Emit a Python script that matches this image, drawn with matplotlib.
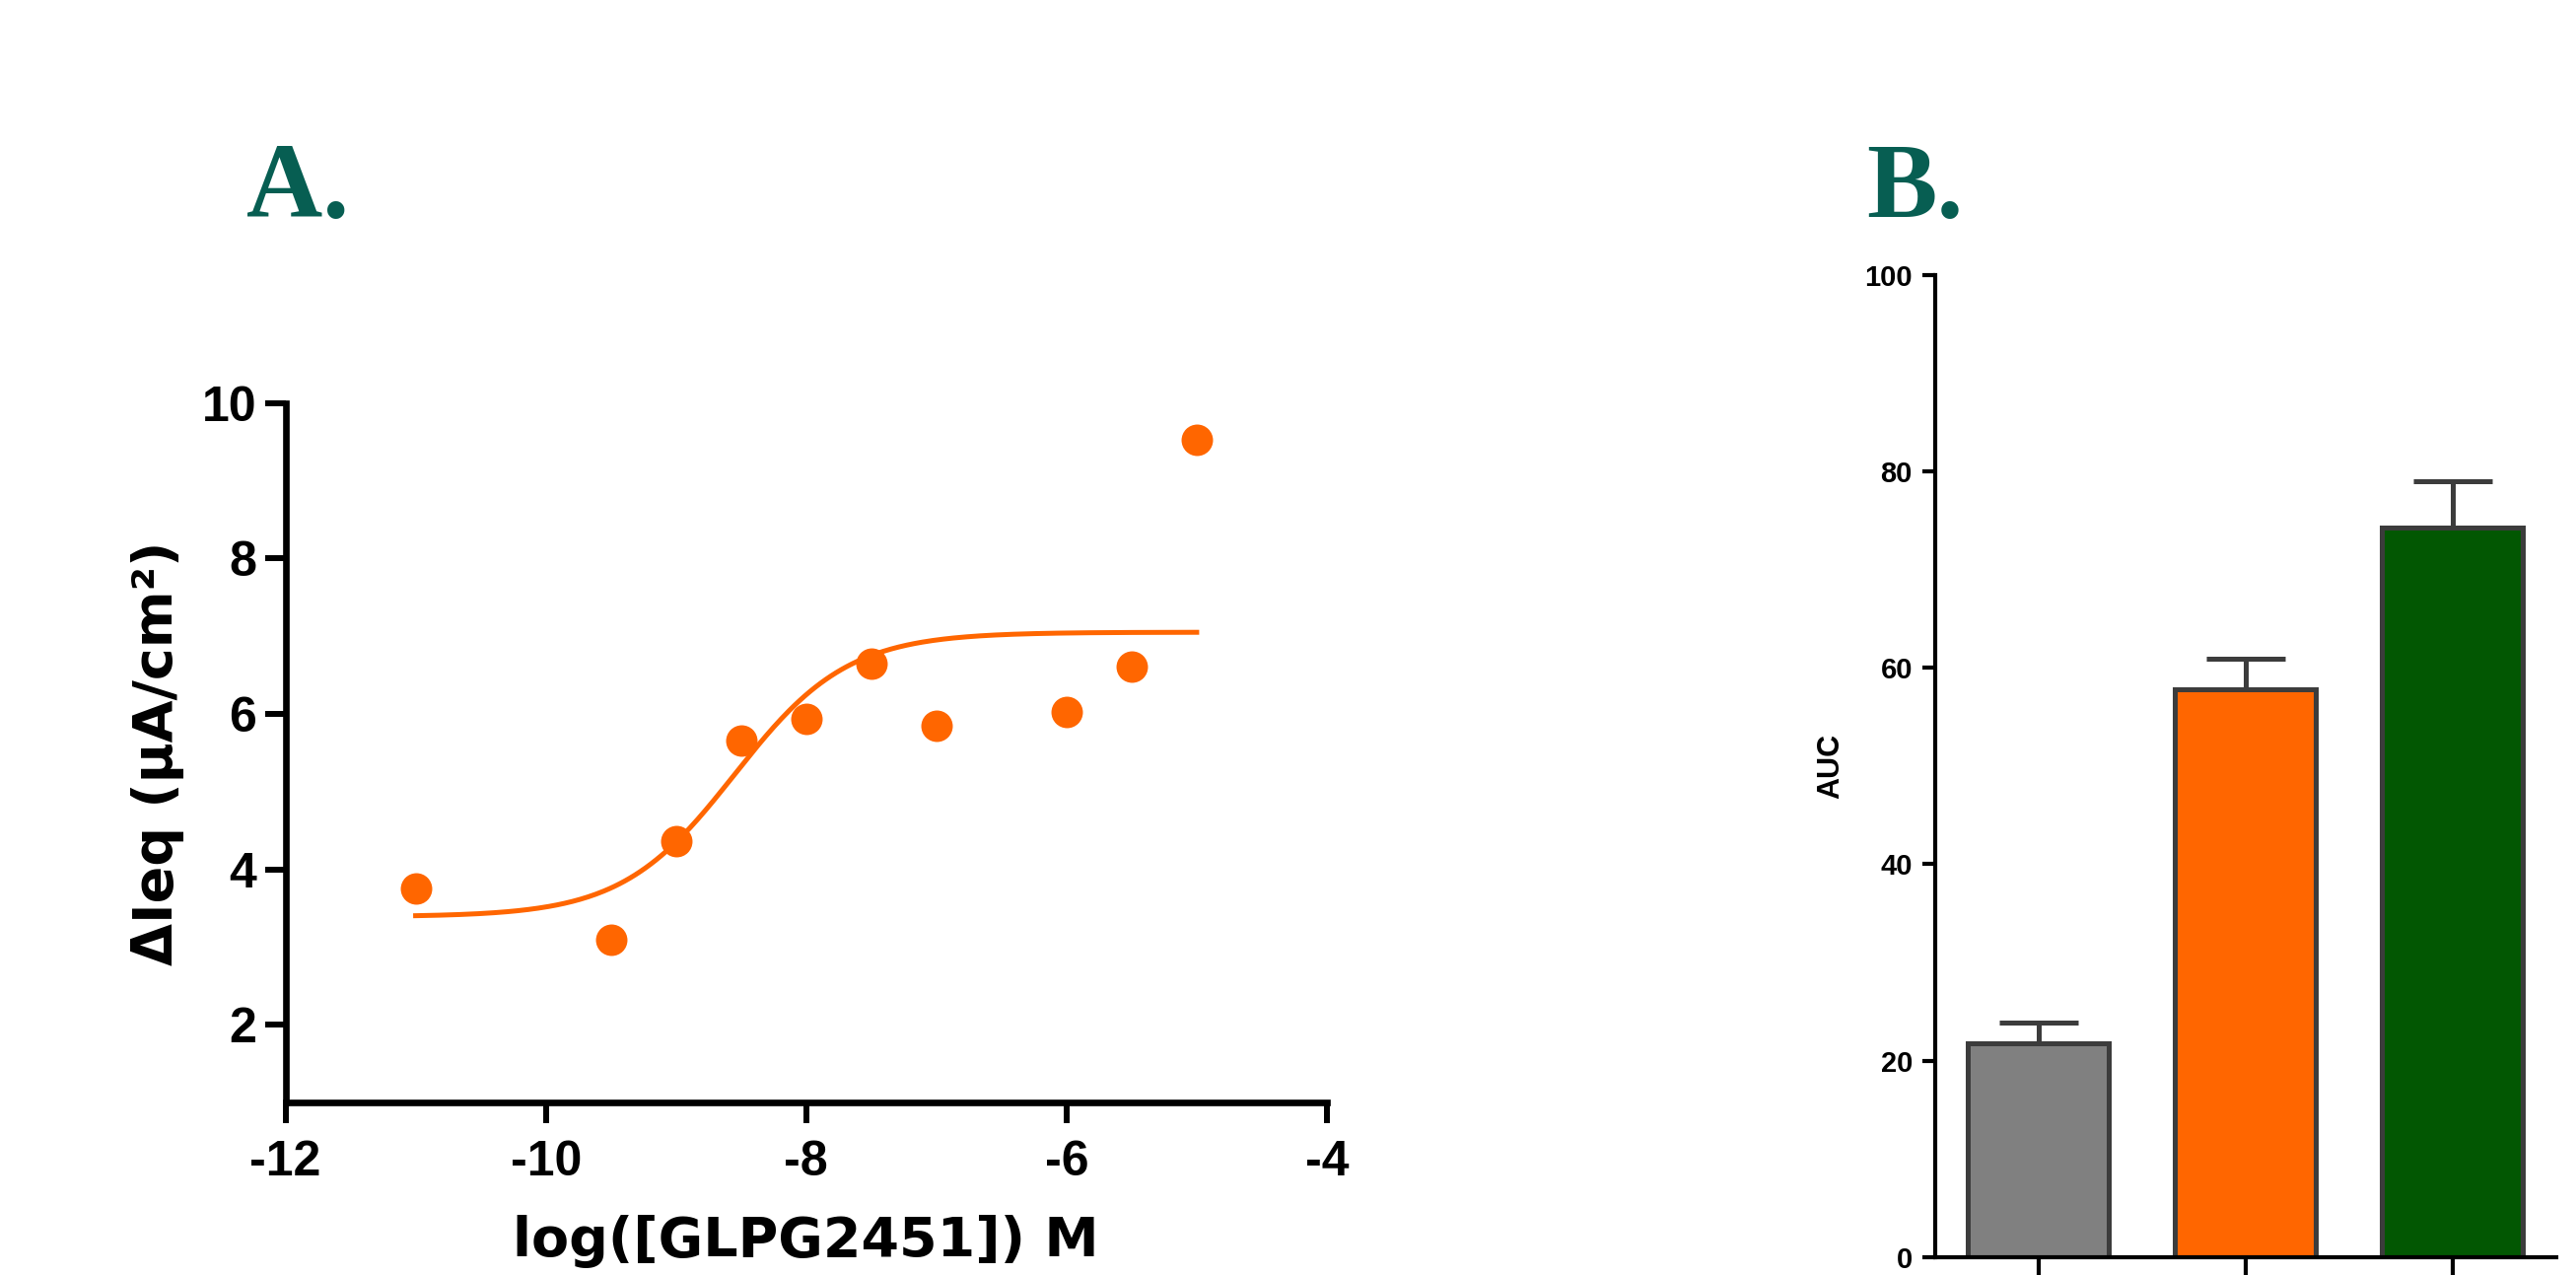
import numpy as np
import matplotlib
matplotlib.use("Agg")
import matplotlib.pyplot as plt

plt.rcParams["axes.unicode_minus"] = False

# panel A: dose response
log_conc = [-11, -9.5, -9, -8.5, -8, -7.5, -7, -6, -5.5, -5]
delta_ieq = [3.75, 3.10, 4.36, 5.66, 5.94, 6.65, 5.85, 6.02, 6.61, 9.53]
# 4-parameter logistic fit
fit_bottom = 3.39
fit_top = 7.05
fit_log_ec50 = -8.55
fit_hill = 1.0

# panel B: AUC bars
groups = ["vehicle", "GLPG2451", "combo"]
auc_mean = [21.8, 57.8, 74.3]
auc_sem = [2.1, 3.1, 4.7]
bar_colors = ["#808080", "#FF6600", "#025702"]

orange = "#FF6600"
teal = "#075E52"
edge = "#3C3C3C"

fig = plt.figure(figsize=(26.13, 12.93), dpi=100)

# ---- panel A ----
axA = fig.add_axes([0.1108, 0.1353, 0.4043, 0.5487])
xs = np.linspace(log_conc[0], log_conc[-1], 300)
curve = fit_bottom + (fit_top - fit_bottom) / (1 + 10 ** ((fit_log_ec50 - xs) * fit_hill))
axA.plot(xs, curve, color=orange, lw=3.6, zorder=2)
axA.plot(log_conc, delta_ieq, "o", color=orange, ms=23, mew=0, zorder=3)

axA.set_xlim(-12, -4)
axA.set_ylim(1, 10)
axA.set_xticks([-12, -10, -8, -6, -4])
axA.set_yticks([2, 4, 6, 8, 10])
for s in ["top", "right"]:
    axA.spines[s].set_visible(False)
for s in ["left", "bottom"]:
    axA.spines[s].set_linewidth(4.8)
axA.tick_params(axis="both", length=15, width=4.3, direction="out")
axA.tick_params(axis="x", pad=12)
axA.tick_params(axis="y", pad=6)
for lab in axA.get_xticklabels() + axA.get_yticklabels():
    lab.set_fontfamily("Liberation Sans")
    lab.set_fontweight("bold")
    lab.set_fontsize(36)
axA.set_xlabel("log([GLPG2451]) M", fontfamily="DejaVu Sans", fontweight="bold",
               fontsize=40, labelpad=22)
axA.set_ylabel("ΔIeq (μA/cm²)", fontfamily="DejaVu Sans", fontweight="bold",
               fontsize=40, labelpad=13)

# ---- panel B ----
axB = fig.add_axes([0.7512, 0.01392, 0.2411, 0.7706])
pos = np.arange(len(groups))
axB.errorbar(pos, auc_mean, yerr=[np.zeros(len(groups)), auc_sem], fmt="none",
             ecolor=edge, elinewidth=3.6, capsize=29, capthick=3.6, zorder=1)
axB.bar(pos, auc_mean, width=0.68, color=bar_colors, edgecolor=edge, linewidth=3.6, zorder=2)
axB.set_xlim(-0.5, 2.5)
axB.set_ylim(0, 100)
axB.set_yticks([0, 20, 40, 60, 80, 100])
axB.set_xticks(pos)
axB.set_xticklabels([])
for s in ["top", "right"]:
    axB.spines[s].set_visible(False)
for s in ["left", "bottom"]:
    axB.spines[s].set_linewidth(3)
axB.tick_params(axis="both", length=9.5, width=3, direction="out", pad=7)
axB.tick_params(axis="x", length=14)
for lab in axB.get_yticklabels():
    lab.set_fontfamily("Liberation Sans")
    lab.set_fontweight("bold")
    lab.set_fontsize(21)
axB.set_ylabel("AUC", fontfamily="Liberation Sans", fontweight="bold", fontsize=22, labelpad=14)

# panel letters
fig.text(250 / 2613, 1 - 220 / 1293, "A.", fontfamily="Liberation Serif", fontweight="bold",
         fontsize=77, color=teal, ha="left", va="baseline")
fig.text(1893 / 2613, 1 - 220 / 1293, "B.", fontfamily="Liberation Serif", fontweight="bold",
         fontsize=77, color=teal, ha="left", va="baseline")

fig.savefig("out.png", dpi=100)
